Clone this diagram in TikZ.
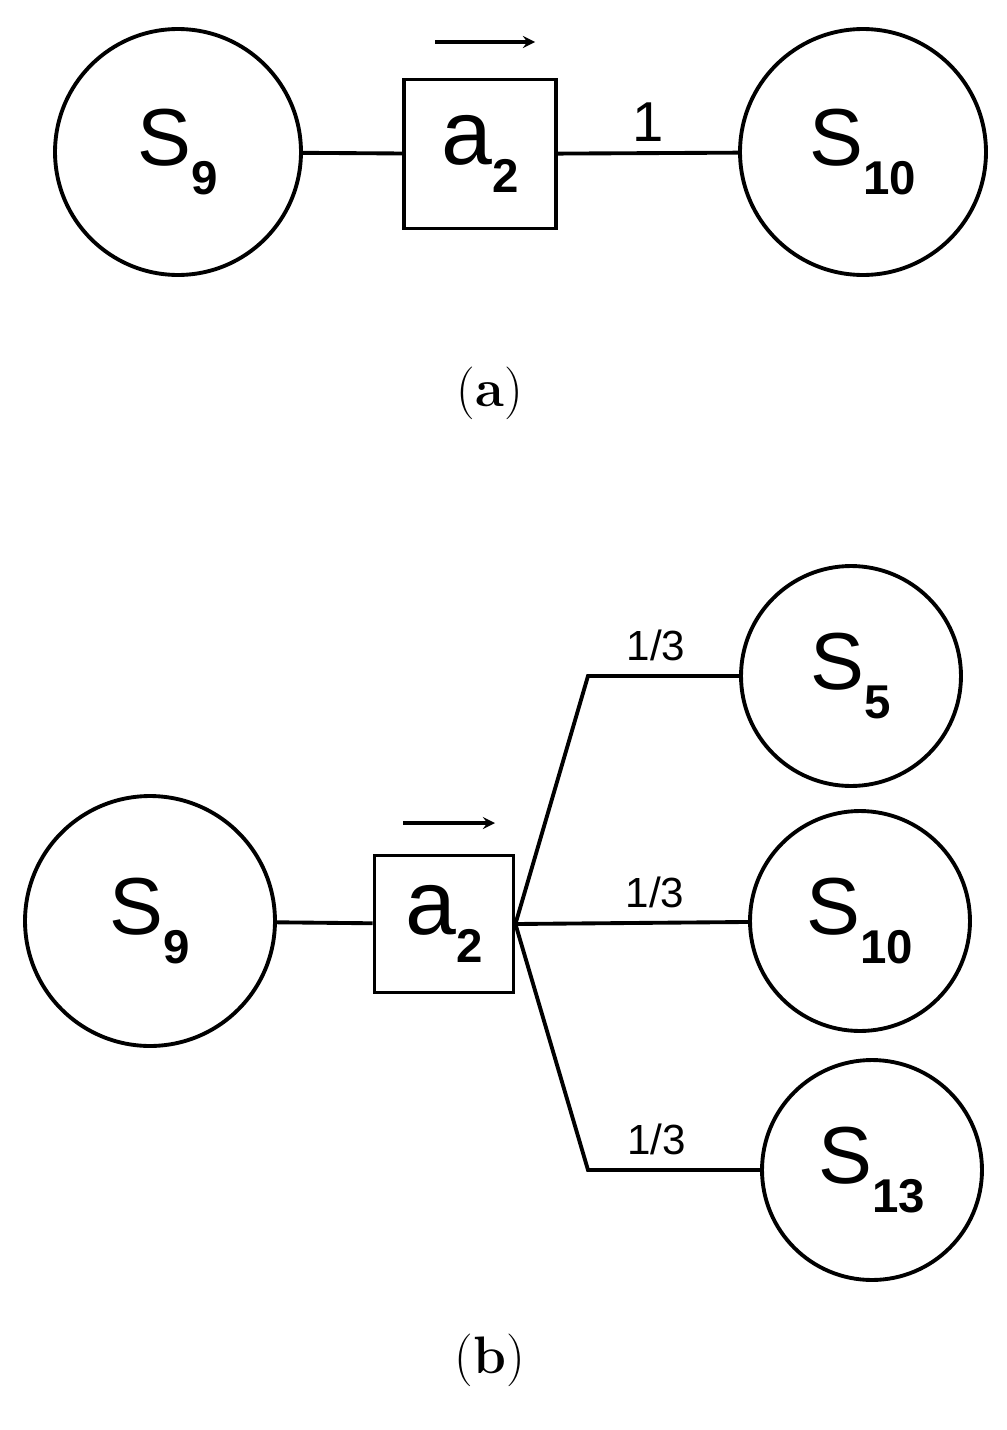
\documentclass[tikz,border=0pt]{standalone}
\usepackage{fontspec}
\setmainfont{Liberation Sans}
\newfontfamily\lmserif{Latin Modern Roman}
\newcommand{\st}[1]{\fontsize{46}{46}\selectfont S\raisebox{-0.35em}{\fontsize{27}{27}\selectfont\bfseries #1}}
\newcommand{\ac}[1]{\fontsize{52}{52}\selectfont a\raisebox{-0.3em}{\fontsize{27}{27}\selectfont\bfseries #1}}
\tikzset{
  state/.style={draw,circle,line width=2.2pt,inner sep=0pt},
  act/.style={draw,rectangle,line width=2.2pt,inner sep=0pt},
  edge/.style={line width=2.2pt},
  prob/.style={font=\fontsize{24}{24}\selectfont}
}
\begin{document}
\begin{tikzpicture}[x=0.02cm,y=-0.02cm]
        \useasboundingbox (0,0) rectangle (1007,1430);
        % (a)
        \node[state,minimum size=246\pgflinewidth*0+4.92cm] (s9a) at (178,152) {\st{9}};
        \node[act,minimum width=3.04cm,minimum height=2.98cm] (a2a) at (480,154) {\ac{2}};
        \node[state,minimum size=4.92cm] (s10a) at (863,152) {\st{10}};
        \draw[edge] (s9a) -- (a2a);
        \draw[edge] (a2a) -- (s10a) node[pos=.5,above=2pt,font=\fontsize{32}{32}\selectfont] {1};
        \draw[->,line width=2pt,>=stealth] (435,42) -- (535,42);
        \node[font=\lmserif\fontsize{30}{30}\selectfont] (la) at (490,393) {(\textbf{a})};
        % (b)
        \node[state,minimum size=5cm] (s9b) at (150,921) {\st{9}};
        \node[act,minimum width=2.78cm,minimum height=2.74cm] (a2b) at (444,924) {\ac{2}};
        \node[state,minimum size=4.4cm] (s5) at (851,676) {\st{5}};
        \node[state,minimum size=4.4cm] (s10b) at (860,921) {\st{10}};
        \node[state,minimum size=4.4cm] (s13) at (872,1170) {\st{13}};
        \coordinate (u) at (588,676);
        \coordinate (d) at (588,1170);
        \draw[edge] (s9b) -- (a2b);
        \draw[edge] (a2b.east) -- (u) -- (s5) node[prob,pos=.45,above=4pt] {1/3};
        \draw[edge] (a2b.east) -- (s10b) node[prob,pos=.6,above=4pt] {1/3};
        \draw[edge] (a2b.east) -- (d) -- (s13) node[prob,pos=.4,above=4pt] {1/3};
        \draw[->,line width=2pt,>=stealth] (403,823) -- (495,823);
        \node[font=\lmserif\fontsize{30}{30}\selectfont] (lb) at (490,1360) {(\textbf{b})};
\end{tikzpicture}
\end{document}
